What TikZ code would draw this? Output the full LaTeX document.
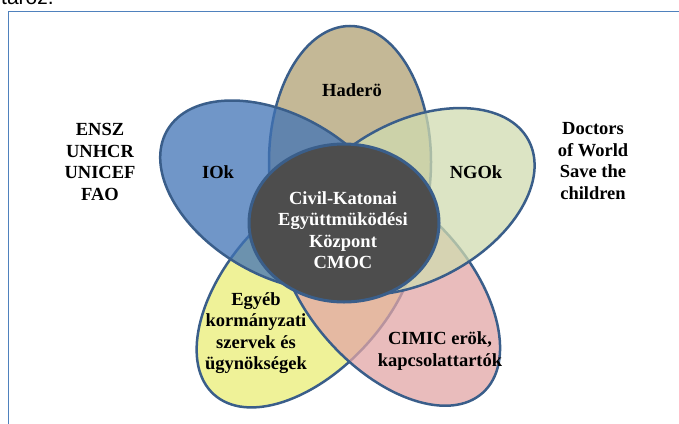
\documentclass[tikz,border=0pt]{standalone}
\usepackage{fontspec}
\setmainfont{Liberation Serif}
\newfontfamily\notefont{Liberation Sans}
\usepackage{tikz}
\usetikzlibrary{positioning}
\definecolor{framecolor}{RGB}{79,129,189}
\definecolor{edgecolor}{RGB}{58,94,138}
\definecolor{haderocolor}{RGB}{176,160,115}
\definecolor{iokcolor}{RGB}{64,115,182}
\definecolor{ngocolor}{RGB}{208,219,176}
\definecolor{egyebcolor}{RGB}{234,238,118}
\definecolor{cimiccolor}{RGB}{226,166,166}
\definecolor{cmoccolor}{RGB}{77,77,77}
\newcommand{\petalfont}{\fontsize{18.5}{21.5}\selectfont\bfseries}

\begin{document}
\begin{tikzpicture}[
    x=1pt, y=-1pt,
    petal/.style={draw=edgecolor, line width=2.5pt, fill opacity=0.75},
    petaltext/.style={font=\petalfont, align=center, text=black, inner sep=0pt},
    outertext/.style={font=\petalfont, align=center, text=black, inner sep=0pt}
]
    \useasboundingbox (0,0) rectangle (679,423);

    % Page fragment and frame
    \node[font=\notefont\fontsize{21}{25}\selectfont, anchor=base west, inner sep=0pt] (caption) at (1,5) {tároz.};
    \draw[framecolor, line width=1.5pt] (8.5,430) |- (690,11.5);

    % Petals
    \draw[petal, fill=haderocolor] (350,162) ellipse [x radius=81, y radius=136];
    \draw[petal, fill=egyebcolor, rotate around={48:(307.6,290.4)}] (307.6,290.4) ellipse [x radius=140, y radius=80];
    \draw[petal, fill=cimiccolor, rotate around={-48:(389.1,288.7)}] (389.1,288.7) ellipse [x radius=140, y radius=80];
    \draw[petal, fill=iokcolor, rotate around={-30:(279.7,195.5)}] (279.7,195.5) ellipse [x radius=130, y radius=80];
    \draw[petal, fill=ngocolor, rotate around={28:(413.8,201.4)}] (413.8,201.4) ellipse [x radius=130, y radius=80];

    % Centre
    \draw[draw=edgecolor, line width=3pt, fill=cmoccolor] (344,223) ellipse [x radius=95, y radius=79];

    % Labels
    \node[petaltext] (hadero) at (352,90) {Haderö};
    \node[petaltext] (iok) at (218,172) {IOk};
    \node[petaltext] (ngo) at (476,172) {NGOk};
    \node[petaltext] (egyeb) at (256,333) {Egyéb\\kormányzati\\szervek és\\ügynökségek};
    \node[petaltext] (cimic) at (440,351) {CIMIC erök,\\kapcsolattartók};
    \node[petaltext, text=white] (cmoc) at (343,230) {Civil-Katonai\\Együttmüködési\\Központ\\CMOC};

    % Member organisations
    \node[outertext] (ensz) at (100,162) {ENSZ\\UNHCR\\UNICEF\\FAO};
    \node[outertext] (doctors) at (593,161) {Doctors\\of World\\Save the\\children};
\end{tikzpicture}
\end{document}
